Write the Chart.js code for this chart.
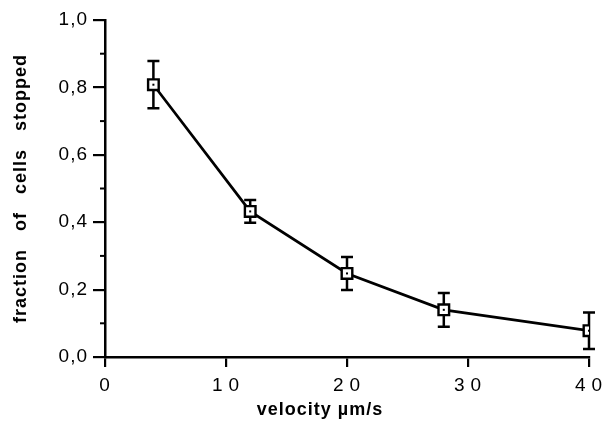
<!DOCTYPE html>
<html>
<head>
<meta charset="utf-8">
<script src="https://cdn.jsdelivr.net/npm/chart.js@4/dist/chart.umd.min.js"></script>
<style>
  html, body { margin: 0; padding: 0; background: #fff; }
  #wrap { width: 603px; height: 421px; }
</style>
</head>
<body>
<div id="wrap"><canvas id="chart" width="603" height="421"></canvas></div>
<script>
// values
const velocity = [4, 12, 20, 28, 40];
const fractionStopped = [0.808, 0.432, 0.248, 0.14, 0.078];
const errors = [0.07, 0.034, 0.049, 0.05, 0.054];

const xTicks = [0, 10, 20, 30, 40];
const xTickLabels = ["0", "1\u20090", "2\u20090", "3\u20090", "4\u20090"];
const yTicks = [0, 0.2, 0.4, 0.6, 0.8, 1.0];
const yMinorTicks = [0.1, 0.3, 0.5, 0.7, 0.9];

const errorBars = {
  id: "errorBars",
  beforeDraw(chart) {
    // the printed figure has slightly spaced-out lettering
    chart.ctx.letterSpacing = "1px";
  },
  beforeDatasetsDraw(chart) {
    const ctx = chart.ctx;
    const xs = chart.scales.x, ys = chart.scales.y;
    ctx.save();
    ctx.strokeStyle = "#000";
    ctx.lineWidth = 2.5;
    velocity.forEach((v, i) => {
      const px = xs.getPixelForValue(v);
      const top = ys.getPixelForValue(fractionStopped[i] + errors[i]);
      const bot = ys.getPixelForValue(fractionStopped[i] - errors[i]);
      ctx.beginPath();
      ctx.moveTo(px, top); ctx.lineTo(px, bot);
      ctx.moveTo(px - 6, top); ctx.lineTo(px + 6, top);
      ctx.moveTo(px - 6, bot); ctx.lineTo(px + 6, bot);
      ctx.stroke();
    });
    // minor ticks on the y axis
    ctx.lineWidth = 2;
    yMinorTicks.forEach((t) => {
      const py = ys.getPixelForValue(t);
      ctx.beginPath();
      ctx.moveTo(xs.left - 5, py); ctx.lineTo(xs.left, py);
      ctx.stroke();
    });
    ctx.restore();
  },
  afterDatasetsDraw(chart) {
    const ctx = chart.ctx;
    const xs = chart.scales.x, ys = chart.scales.y;
    ctx.save();
    ctx.fillStyle = "#000";
    velocity.forEach((v, i) => {
      const px = xs.getPixelForValue(v);
      const py = ys.getPixelForValue(fractionStopped[i]);
      ctx.fillRect(px - 1, py - 1, 2, 2);
    });
    ctx.restore();
  }
};

new Chart(document.getElementById("chart"), {
  type: "scatter",
  data: {
    datasets: [{
      data: velocity.map((v, i) => ({ x: v, y: fractionStopped[i] })),
      showLine: true,
      borderColor: "#000",
      borderWidth: 2.7,
      pointStyle: "rect",
      pointRadius: 7.5,
      pointBorderWidth: 2.4,
      pointBackgroundColor: "#fff",
      pointBorderColor: "#000"
    }]
  },
  options: {
    responsive: false,
    animation: false,
    layout: { padding: { top: 20, right: 14, bottom: 0, left: 10 } },
    plugins: { legend: { display: false }, tooltip: { enabled: false } },
    scales: {
      x: {
        type: "linear",
        min: 0, max: 40,
        afterBuildTicks: (s) => { s.ticks = xTicks.map((v) => ({ value: v })); },
        ticks: {
          color: "#000",
          font: { family: "Liberation Sans", size: 19 },
          padding: 7,
          maxRotation: 0,
          callback: (v) => xTickLabels[xTicks.indexOf(v)]
        },
        grid: { drawOnChartArea: false, color: "#000", lineWidth: 2.2, tickLength: 10 },
        border: { color: "#000", width: 2.5 },
        title: {
          display: true,
          text: "velocity \u00b5m/s" + "\u00a0".repeat(9),
          color: "#000",
          font: { family: "Liberation Sans", size: 18, weight: "bold" },
          padding: { top: 2, bottom: 0 }
        },
        afterFit: (s) => { s.height = 64; s.paddingRight = 14; s.paddingLeft = 0; }
      },
      y: {
        min: 0, max: 1,
        afterBuildTicks: (s) => { s.ticks = yTicks.map((v) => ({ value: v })); },
        ticks: {
          color: "#000",
          font: { family: "Liberation Sans", size: 19 },
          padding: 5,
          callback: (v) => v.toFixed(1).replace(".", ",")
        },
        grid: { drawOnChartArea: false, color: "#000", lineWidth: 2.2, tickLength: 12 },
        border: { color: "#000", width: 2.5 },
        title: {
          display: true,
          text: "fraction   of   cells   stopped",
          color: "#000",
          font: { family: "Liberation Sans", size: 18, weight: "bold" },
          padding: { top: 0, bottom: 0 }
        },
        afterFit: (s) => { s.width = 95; }
      }
    }
  },
  plugins: [errorBars]
});
</script>
</body>
</html>
